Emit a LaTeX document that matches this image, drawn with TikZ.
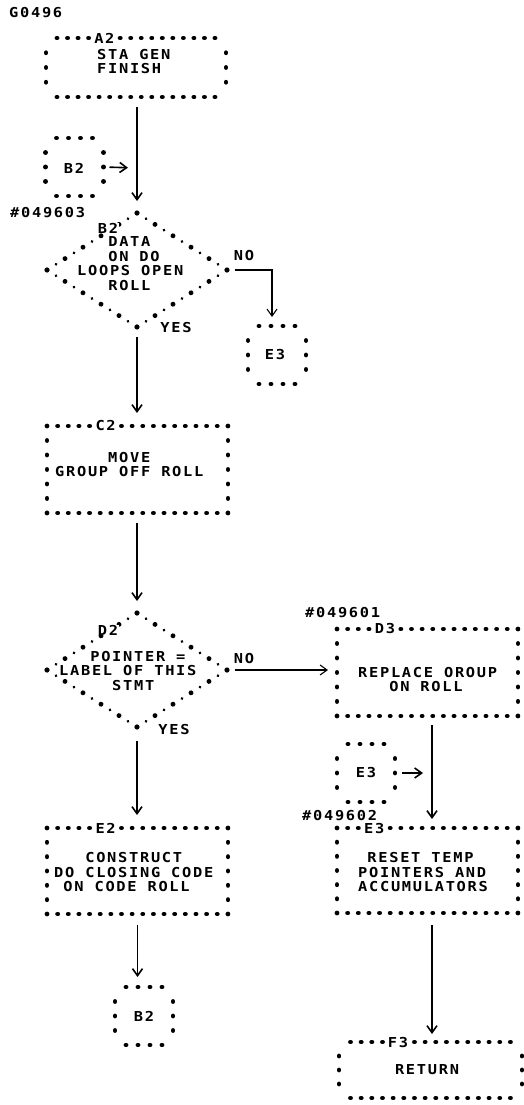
\documentclass[tikz,border=0pt]{standalone}
\usepackage{fontspec}
\newfontfamily\ibm[UprightFont={* Bold},FakeStretch=1.12,LetterSpace=12.5]{DejaVu Sans Mono}
\usetikzlibrary{shapes.geometric,arrows.meta,calc}
\tikzset{
  txt/.style={font={\ibm\fontsize{13.7}{14.5}\selectfont}, inner sep=0pt, align=left},
  sbox/.style={rectangle, inner sep=0pt, outer sep=0pt, draw=none},
  decbox/.style={diamond, inner sep=0pt, outer sep=0pt, draw=none},
  bigdot/.style={line width=4.9pt, line cap=round},
  smalldot/.style={line width=3pt, line cap=round},
  flow/.style={line width=1.6pt, -{Straight Barb[length=7pt,width=10pt]}},
  boxlabel/.style={txt, fill=white, inner xsep=0.5pt, inner ysep=0pt},
}
\newcommand\fullframe[3]{%
  \draw[bigdot, dash pattern=on 0.01pt off #2pt] (#1.north west) -- (#1.north east);
  \draw[bigdot, dash pattern=on 0.01pt off #2pt] (#1.south west) -- (#1.south east);
  \draw[bigdot, dash pattern=on 0.01pt off #3pt] (#1.north west) -- (#1.south west);
  \draw[bigdot, dash pattern=on 0.01pt off #3pt] (#1.north east) -- (#1.south east);}
\newcommand\insetframe[5]{%
  \draw[bigdot, dash pattern=on 0.01pt off #3pt] ($(#1.north west)+(#2,0)$) -- ($(#1.north east)+(-#2,0)$);
  \draw[bigdot, dash pattern=on 0.01pt off #3pt] ($(#1.south west)+(#2,0)$) -- ($(#1.south east)+(-#2,0)$);
  \draw[bigdot, dash pattern=on 0.01pt off #5pt] ($(#1.north west)+(0,#4)$) -- ($(#1.south west)+(0,-#4)$);
  \draw[bigdot, dash pattern=on 0.01pt off #5pt] ($(#1.north east)+(0,#4)$) -- ($(#1.south east)+(0,-#4)$);}
\newcommand\diamframe[1]{%
  \foreach \va/\vb in {north/west, west/south, south/east, east/north}{
    \draw[bigdot, dash pattern=on 0.01pt off 21.29pt] (#1.\va) -- (#1.\vb);
    \draw[smalldot, dash pattern=on 0.01pt off 21.29pt, dash phase=10.65pt] (#1.\va) -- (#1.\vb);}}
\begin{document}
\begin{tikzpicture}[x=1pt,y=-1pt]
\fill[white] (0,0) rectangle (524,1105);
\useasboundingbox (0,0) rectangle (524,1105);

\node[txt, anchor=west] (title) at (9,13) {G0496};

% A2
\node[sbox, minimum width=180pt, minimum height=59pt] (a2) at (136,67.5) {};
\insetframe{a2}{11}{10.52}{14.75}{14.74}
\node[boxlabel] (a2l) at (104.4,38) {A2};
\node[txt, anchor=west] (a2x) at (97,61.5) {STA GEN\\FINISH};

% B2 connector (top)
\node[sbox, minimum width=58pt, minimum height=58pt] (b2c) at (74.5,167) {};
\insetframe{b2c}{11}{11.98}{14.5}{14.48}
\node[txt] (b2ct) at (74,168) {B2};
\coordinate (j1) at (137,168);

% B2 decision
\node[decbox, minimum width=180pt, minimum height=114pt] (b2) at (137,270) {};
\diamframe{b2}
\node[boxlabel] (b2l) at (108,228) {B2};
\node[txt, anchor=west] (b2x) at (77,263.5) {\hphantom{LOO}DATA\\\hphantom{LOO}ON DO\\LOOPS OPEN\\\hphantom{LOO}ROLL};
\node[txt, anchor=west] (n1) at (10,213) {\#049603};
\node[txt] (no1) at (244,256) {NO};
\node[txt] (yes1) at (176,328) {YES};

% E3 connector (upper)
\node[sbox, minimum width=58pt, minimum height=58pt] (e3c) at (277,355) {};
\insetframe{e3c}{11}{11.98}{14.5}{14.48}
\node[txt] (e3ct) at (275,355) {E3};

% C2
\node[sbox, minimum width=181pt, minimum height=87pt] (c2) at (137.5,469.5) {};
\fullframe{c2}{10.63}{14.48}
\node[boxlabel] (c2l) at (105.6,426) {C2};
\node[txt, anchor=west] (c2x) at (55,464.5) {\hphantom{GROUP}MOVE\\GROUP OFF ROLL};

% D2 decision
\node[decbox, minimum width=180pt, minimum height=114pt] (d2) at (137,670) {};
\diamframe{d2}
\node[boxlabel] (d2l) at (108,630) {D2};
\node[txt, anchor=west] (d2x) at (59,671) {\hphantom{LAB}POINTER =\\LABEL OF THIS\\\hphantom{LABEL}STMT};
\node[txt] (no2) at (244,659) {NO};
\node[txt] (yes2) at (174,730) {YES};

% D3
\node[sbox, minimum width=181pt, minimum height=87pt] (d3) at (427.5,672.5) {};
\fullframe{d3}{10.63}{14.48}
\node[boxlabel] (d3l) at (384.9,629) {D3};
\node[txt, anchor=west] (n2) at (305,613) {\#049601};
\node[txt, anchor=west] (d3x) at (358,679.5) {REPLACE OROUP\\\hphantom{REP}ON ROLL};

% E3 connector (lower)
\node[sbox, minimum width=58pt, minimum height=58pt] (e3d) at (366,773) {};
\insetframe{e3d}{11}{11.98}{14.5}{14.48}
\node[txt] (e3dt) at (366,773) {E3};
\coordinate (j2) at (432,773);

% E3 box
\node[sbox, minimum width=181pt, minimum height=85pt] (e3) at (427.5,870.5) {};
\fullframe{e3}{10.63}{14.15}
\node[boxlabel] (e3l) at (374.3,828.5) {E3};
\node[txt, anchor=west] (n3) at (302,815.5) {\#049602};
\node[txt, anchor=west] (e3x) at (358,872.5) {\hphantom{P}RESET TEMP\\POINTERS AND\\ACCUMULATORS};

% E2 box
\node[sbox, minimum width=181pt, minimum height=86pt] (e2) at (137.5,871) {};
\fullframe{e2}{10.63}{14.32}
\node[boxlabel] (e2l) at (105.6,828) {E2};
\node[txt, anchor=west] (e2x) at (54,872.5) {\hphantom{DOX}CONSTRUCT\\DO CLOSING CODE\\\hphantom{D}ON CODE ROLL};

% F3
\node[sbox, minimum width=183pt, minimum height=56pt] (f3) at (430.5,1070) {};
\insetframe{f3}{11.5}{10.65}{14}{13.98}
\node[boxlabel] (f3l) at (398,1042) {F3};
\node[txt] (f3x) at (427,1070) {RETURN};

% B2 connector (bottom)
\node[sbox, minimum width=58pt, minimum height=58pt] (b2b) at (144,1016) {};
\insetframe{b2b}{11}{11.98}{14.5}{14.48}
\node[txt] (b2bt) at (144,1016) {B2};

% connectors
\draw[flow, shorten <=10pt, shorten >=12pt] (a2.south -| b2.north) -- (b2.north);
\draw[flow, shorten <=6pt, shorten >=9pt] (b2c.east) -- (j1);
\draw[flow, line width=1.1pt, shorten <=8pt, shorten >=9pt] (b2.east) -| ([xshift=-5pt]e3c.north);
\draw[flow, shorten <=10pt, shorten >=13pt] (b2.south) -- (b2.south |- c2.north);
\draw[flow, shorten <=10pt, shorten >=12pt] (c2.south -| d2.north) -- (d2.north);
\draw[flow, line width=1.1pt, shorten <=8pt, shorten >=9pt] (d2.east) -- (d2.east -| d3.west);
\draw[flow, shorten <=14pt, shorten >=13pt] (d2.south) -- (d2.south |- e2.north);
\draw[flow, shorten <=9pt, shorten >=9pt] ([xshift=4.5pt]d3.south) -- ([xshift=4.5pt]e3.north);
\draw[flow, shorten <=7pt, shorten >=9pt] (e3d.east) -- (j2);
\draw[flow, shorten <=12pt, shorten >=8pt] ([xshift=4.5pt]e3.south) -- ([xshift=4.5pt]e3.south |- f3.north);
\draw[flow, shorten <=11pt, shorten >=10pt] (e2.south) -- (e2.south |- b2b.north);
\end{tikzpicture}
\end{document}
